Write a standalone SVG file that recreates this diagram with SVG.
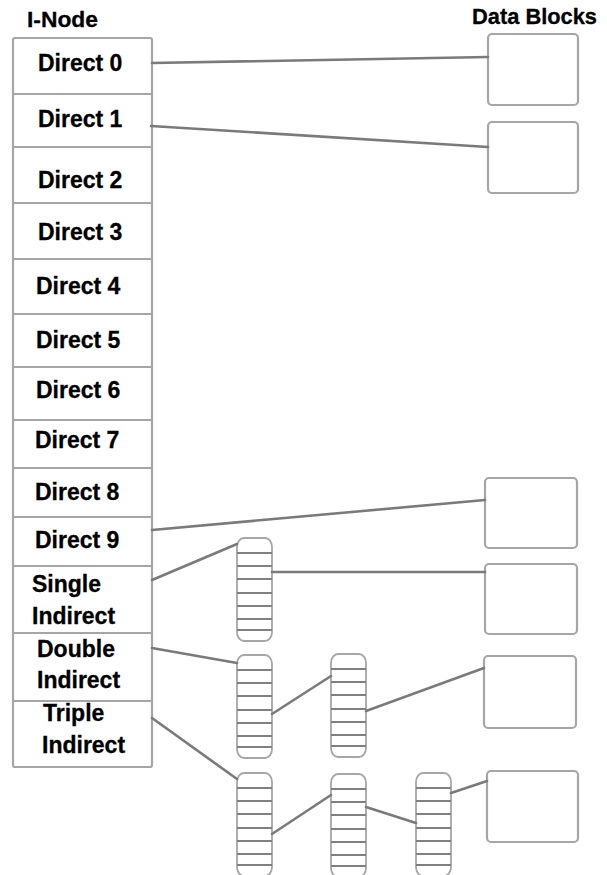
<svg xmlns="http://www.w3.org/2000/svg" width="607" height="875" viewBox="0 0 607 875">
  <style>
    .lbl { font-family: "Liberation Sans", Arial, sans-serif; font-weight: bold; font-size: 23px; fill: #000; stroke: #000; stroke-width: 0.3; }
    .hdr { font-family: "Liberation Sans", Arial, sans-serif; font-weight: bold; font-size: 22px; fill: #000; stroke: #000; stroke-width: 0.3; }
    .box { fill: #fff; stroke: #a6a6a6; stroke-width: 2.2; }
    .div { stroke: #a6a6a6; stroke-width: 2; }
    .ptr { fill: #fff; stroke: #a6a6a6; stroke-width: 1.8; }
    .slot { stroke: #808080; stroke-width: 1.8; }
    .link { stroke: #7a7a7a; stroke-width: 2.6; fill: none; stroke-linecap: round; }
  </style>
  <defs>
    <!-- one block of pointers: rounded column split into slots -->
    <g id="ptrblock">
      <rect class="ptr" x="0" y="0" width="35" height="103" rx="7" ry="9"/>
      <line class="slot" x1="0" y1="15" x2="35" y2="15"/>
      <line class="slot" x1="0" y1="28" x2="35" y2="28"/>
      <line class="slot" x1="0" y1="41" x2="35" y2="41"/>
      <line class="slot" x1="0" y1="55" x2="35" y2="55"/>
      <line class="slot" x1="0" y1="68" x2="35" y2="68"/>
      <line class="slot" x1="0" y1="81" x2="35" y2="81"/>
      <line class="slot" x1="0" y1="92" x2="35" y2="92"/>
    </g>
  </defs>

  <rect x="0" y="0" width="607" height="875" fill="#fff"/>

  <text class="hdr" x="27" y="27" textLength="71" lengthAdjust="spacingAndGlyphs">I-Node</text>
  <text class="hdr" x="472" y="24" textLength="125" lengthAdjust="spacingAndGlyphs">Data Blocks</text>

  <!-- i-node table -->
  <g id="inode">
    <rect class="box" x="13" y="38" width="139" height="729" rx="2"/>
    <line class="div" x1="13" y1="94" x2="152" y2="94"/>
    <line class="div" x1="13" y1="147" x2="152" y2="147"/>
    <line class="div" x1="13" y1="203" x2="152" y2="203"/>
    <line class="div" x1="13" y1="259" x2="152" y2="259"/>
    <line class="div" x1="13" y1="314" x2="152" y2="314"/>
    <line class="div" x1="13" y1="367" x2="152" y2="367"/>
    <line class="div" x1="13" y1="420" x2="152" y2="420"/>
    <line class="div" x1="13" y1="468" x2="152" y2="468"/>
    <line class="div" x1="13" y1="517" x2="152" y2="517"/>
    <line class="div" x1="13" y1="566" x2="152" y2="566"/>
    <line class="div" x1="13" y1="633" x2="152" y2="633"/>
    <line class="div" x1="13" y1="701" x2="152" y2="701"/>
    <text class="lbl" x="38" y="71">Direct 0</text>
    <text class="lbl" x="38" y="127">Direct 1</text>
    <text class="lbl" x="38" y="188">Direct 2</text>
    <text class="lbl" x="38" y="240">Direct 3</text>
    <text class="lbl" x="36" y="294">Direct 4</text>
    <text class="lbl" x="36" y="348">Direct 5</text>
    <text class="lbl" x="36" y="398">Direct 6</text>
    <text class="lbl" x="35" y="448">Direct 7</text>
    <text class="lbl" x="35" y="500">Direct 8</text>
    <text class="lbl" x="35" y="548">Direct 9</text>
    <text class="lbl" x="32" y="592">Single</text>
    <text class="lbl" x="32" y="624">Indirect</text>
    <text class="lbl" x="37" y="657">Double</text>
    <text class="lbl" x="37" y="688">Indirect</text>
    <text class="lbl" x="43" y="721">Triple</text>
    <text class="lbl" x="42" y="753">Indirect</text>
  </g>

  <!-- data blocks -->
  <g id="data0"><rect class="box" x="488" y="34" width="90" height="71" rx="4"/></g>
  <g id="data1"><rect class="box" x="488" y="122" width="90" height="71" rx="4"/></g>
  <g id="data2"><rect class="box" x="485" y="478" width="92" height="70" rx="4"/></g>
  <g id="data3"><rect class="box" x="485" y="564" width="92" height="70" rx="4"/></g>
  <g id="data4"><rect class="box" x="484" y="656" width="92" height="72" rx="4"/></g>
  <g id="data5"><rect class="box" x="487" y="771" width="91" height="71" rx="4"/></g>

  <!-- pointer blocks -->
  <g id="single-1"><use href="#ptrblock" x="237" y="538"/></g>
  <g id="double-1"><use href="#ptrblock" x="237" y="655"/></g>
  <g id="double-2"><use href="#ptrblock" x="331" y="654"/></g>
  <g id="triple-1"><use href="#ptrblock" x="237" y="773"/></g>
  <g id="triple-2"><use href="#ptrblock" x="331" y="774"/></g>
  <g id="triple-3"><use href="#ptrblock" x="416" y="773"/></g>

  <!-- connectors -->
  <g id="connectors">
    <line class="link" x1="152" y1="63" x2="488" y2="57"/>
    <line class="link" x1="151" y1="126" x2="488" y2="147"/>
    <line class="link" x1="152" y1="530" x2="485" y2="500"/>
    <line class="link" x1="152" y1="580" x2="237" y2="544"/>
    <line class="link" x1="272" y1="572" x2="485" y2="572"/>
    <line class="link" x1="152" y1="648" x2="237" y2="663"/>
    <line class="link" x1="272" y1="714" x2="331" y2="676"/>
    <line class="link" x1="366" y1="711" x2="484" y2="668"/>
    <line class="link" x1="152" y1="718" x2="237" y2="779"/>
    <line class="link" x1="272" y1="834" x2="331" y2="795"/>
    <line class="link" x1="366" y1="807" x2="416" y2="823"/>
    <line class="link" x1="451" y1="793" x2="487" y2="781"/>
  </g>
</svg>
